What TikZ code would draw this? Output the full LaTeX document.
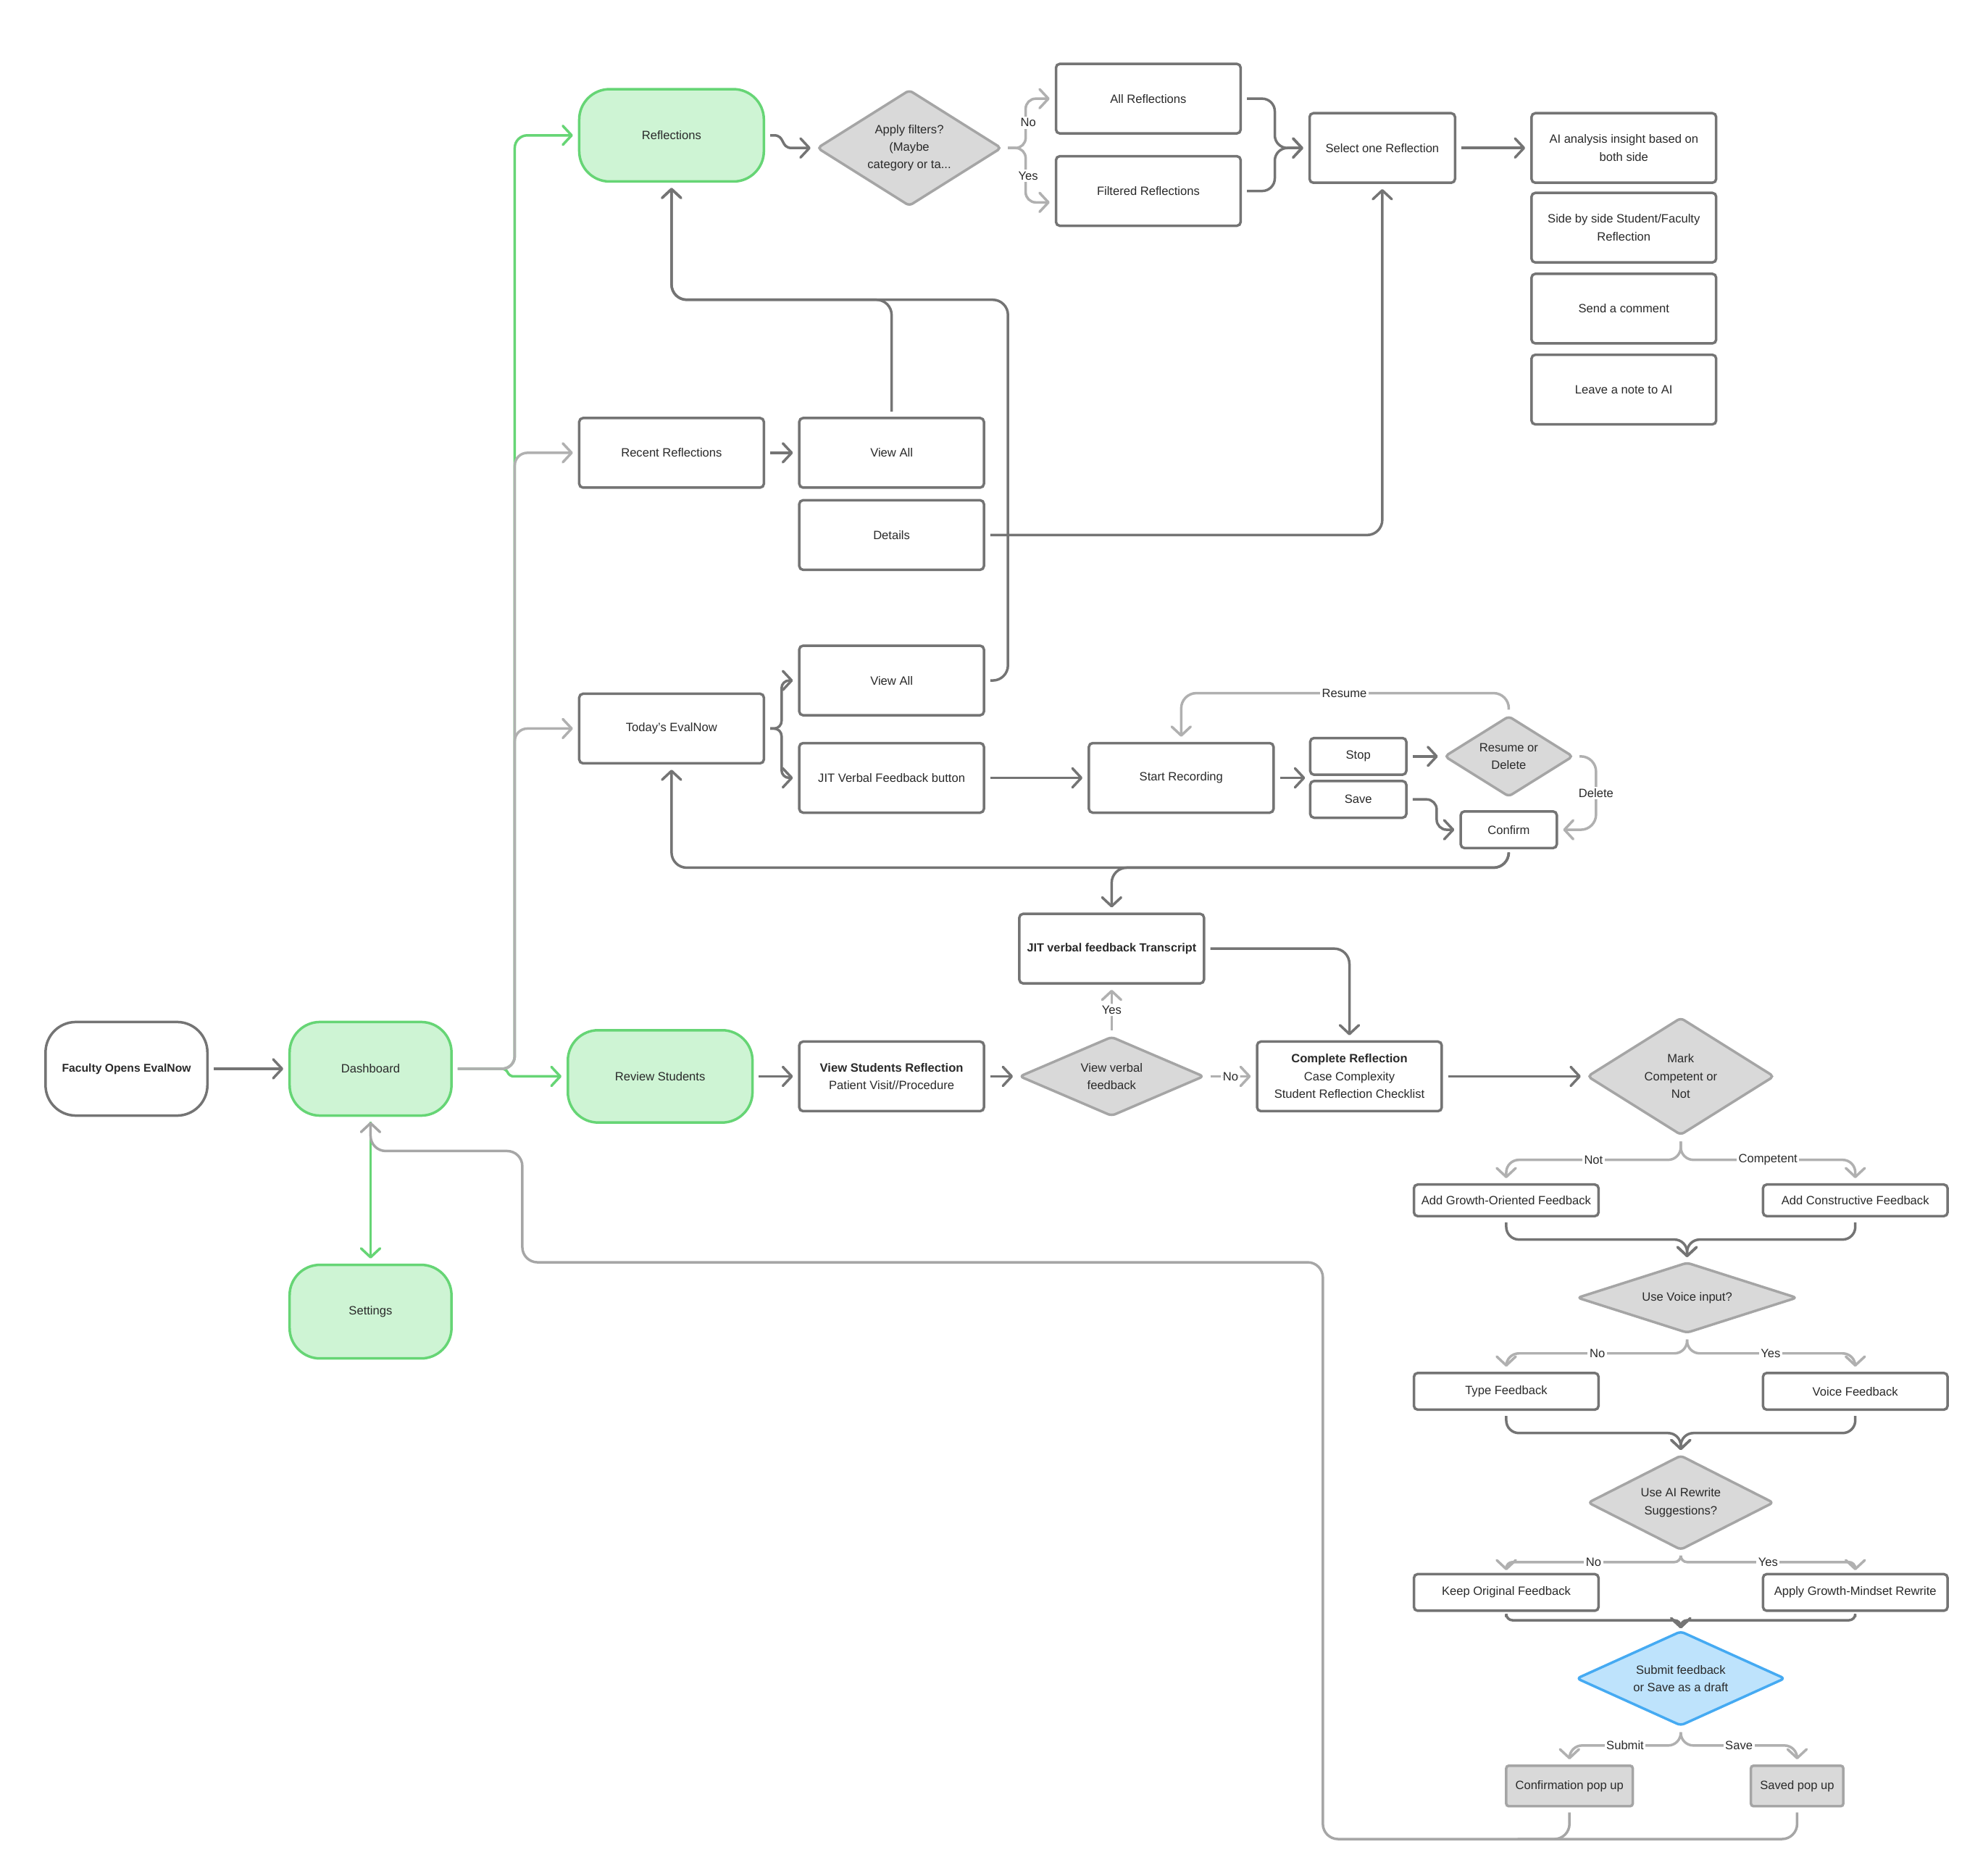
\documentclass[tikz,border=0pt]{standalone}
\usepackage{fontspec}
\setmainfont{Liberation Sans}
\usetikzlibrary{arrows.meta,shapes.geometric}
\definecolor{dgray}{HTML}{747474}
\definecolor{lgray}{HTML}{B0B0B0}
\definecolor{mgray}{HTML}{A6A6A6}
\definecolor{gline}{HTML}{66D575}
\definecolor{gfill}{HTML}{CEF4D4}
\definecolor{dfill}{HTML}{D9D9D9}
\definecolor{dline}{HTML}{A5A5A5}
\definecolor{bfill}{HTML}{BEE3FC}
\definecolor{bline}{HTML}{45AAF2}
\definecolor{txt}{HTML}{2A2A2A}
\begin{document}
\begin{tikzpicture}[x=1pt,y=-1pt,
  font=\fontsize{9.5}{14}\selectfont,
  box/.style={draw=dgray, line width=2pt, fill=white, rounded corners=3pt, minimum width=146pt, minimum height=55pt, inner sep=2pt, align=center, text=txt},
  sbox/.style={box, minimum width=76pt, minimum height=29pt},
  lbox/.style={box, minimum height=29pt},
  pop/.style={draw=dline, fill=dfill, line width=2pt, rounded corners=2pt, minimum height=32pt, inner sep=2pt, align=center, text=txt},
  pill/.style={draw=gline, fill=gfill, line width=2pt, rounded corners=24pt, minimum width=128pt, minimum height=74pt, align=center, text=txt},
  dia/.style={diamond, draw=dline, fill=dfill, line width=2pt, rounded corners=3pt, inner sep=0pt, align=center, text=txt},
  bdia/.style={dia, draw=bline, fill=bfill},
  tip/.style={-{Straight Barb[length=7pt,width=15pt,round]}},
  dconn/.style={draw=dgray, line width=2pt, tip, rounded corners=10pt, shorten >=4pt, shorten <=4pt},
  lconn/.style={dconn, draw=lgray},
  mconn/.style={dconn, draw=mgray},
  gconn/.style={dconn, draw=gline},
  lab/.style={fill=white, inner sep=1.5pt, text=txt}
]
\useasboundingbox (0,0) rectangle (1568,1483);
\fill[white] (0,0) rectangle (1568,1483);

% ---------- nodes ----------
\node[pill, draw=dgray, fill=white, font=\fontsize{9}{14}\selectfont\bfseries] (fac) at (100,845) {Faculty Opens EvalNow};
\node[pill] (dash) at (293,845) {Dashboard};
\node[pill] (set) at (293,1037) {Settings};
\node[pill, minimum width=146pt, minimum height=73pt] (refl) at (531,107) {Reflections};
\node[pill, minimum width=146pt, minimum height=73pt] (rev) at (522,851) {Review Students};

\node[dia, shape aspect=1.59, minimum width=146pt, minimum height=92pt] (filt) at (719,117) {Apply filters?\\(Maybe\\category or ta...};
\node[box] (allr) at (908,78) {All Reflections};
\node[box] (filr) at (908,151) {Filtered Reflections};
\node[box, minimum width=115pt] (sel) at (1093,117) {Select one Reflection};
\node[box] (ai) at (1284,117) {AI analysis insight based on\\both side};
\node[box] (side) at (1284,180) {Side by side Student/Faculty\\Reflection};
\node[box] (send) at (1284,244) {Send a comment};
\node[box] (note) at (1284,308) {Leave a note to AI};

\node[box] (recent) at (531,358) {Recent Reflections};
\node[box] (va1) at (705,358) {View All};
\node[box] (det) at (705,423) {Details};
\node[box] (va2) at (705,538) {View All};
\node[box] (today) at (531,576) {Today’s EvalNow};
\node[box] (jitb) at (705,615) {JIT Verbal Feedback button};
\node[box] (rec) at (934,615) {Start Recording};
\node[sbox] (stop) at (1074,598) {Stop};
\node[sbox] (save) at (1074,632) {Save};
\node[dia, shape aspect=1.6, minimum width=102pt, minimum height=64pt] (rd) at (1193,598) {Resume or\\Delete};
\node[sbox] (conf) at (1193,656) {Confirm};
\coordinate (ss) at (1032,615);

\node[box, font=\fontsize{9.3}{14}\selectfont\bfseries] (jitt) at (879,750) {JIT verbal feedback Transcript};
\node[box] (vsr) at (705,851) {\textbf{View Students Reflection}\\Patient Visit//Procedure};
\node[dia, shape aspect=2.3, minimum width=146pt, minimum height=63pt] (vvf) at (879,851) {View verbal\\feedback};
\node[box] (cr) at (1067,851) {\textbf{Complete Reflection}\\Case Complexity\\Student Reflection Checklist};
\node[dia, shape aspect=1.6, minimum width=148pt, minimum height=93pt] (mark) at (1329,851) {Mark\\Competent or\\Not};

\node[box, minimum height=25pt] (agf) at (1191,949) {Add Growth-Oriented Feedback};
\node[box, minimum height=25pt] (acf) at (1467,949) {Add Constructive Feedback};
\node[dia, shape aspect=3.1, minimum width=174pt, minimum height=56pt] (uvi) at (1334,1026) {Use Voice input?};
\node[lbox] (tf) at (1191,1100) {Type Feedback};
\node[lbox] (vf) at (1467,1100) {Voice Feedback};
\node[dia, shape aspect=1.96, minimum width=147pt, minimum height=75pt] (uai) at (1329,1188) {Use AI Rewrite\\Suggestions?};
\node[lbox] (kof) at (1191,1259) {Keep Original Feedback};
\node[lbox] (agm) at (1467,1259) {Apply Growth-Mindset Rewrite};
\node[bdia, shape aspect=2.2, minimum width=165pt, minimum height=75pt] (sub) at (1329,1327) {Submit feedback\\or Save as a draft};
\node[pop, minimum width=100pt] (cpu) at (1241,1412) {Confirmation pop up};
\node[pop, minimum width=73pt] (spu) at (1421,1412) {Saved pop up};

% ---------- connectors ----------
\draw[dconn] (fac.east) -- (dash.west);
% green (drawn beneath the grey ones)
\draw[gconn] (dash.east) -- (407,845) -- (407,107) -- (refl.west);
\draw[gconn, rounded corners=3pt] (dash.east) -- (400,845) -- (403,851) -- (rev.west);
\draw[gconn] (dash.south) -- (set.north);
% grey from dashboard
\draw[lconn] (dash.east) -- (407,845) -- (407,358) -- (recent.west);
\draw[lconn] (dash.east) -- (407,845) -- (407,576) -- (today.west);

% return path from pop ups
\draw[mconn, rounded corners=12pt] (cpu.south) -- (1241,1454) -- (1046,1454) -- (1046,998) -- (413,998) -- (413,910) -- (293,910) -- (dash.south);
\draw[draw=mgray, line width=2pt, rounded corners=12pt, shorten <=4pt] (spu.south) -- (1421,1454) -- (1200,1454);

% reflections branch
\draw[dconn, rounded corners=0pt] (refl.east) -- (612,107) .. controls (621,107) and (617,117) .. (626,117) -- (filt.west);
\draw[lconn, rounded corners=8pt] (filt.east) -- (811,117) -- (811,78) -- (allr.west);
\draw[lconn, rounded corners=8pt] (filt.east) -- (811,117) -- (811,160) -- ([yshift=-9pt]filr.west);
\node[lab] (lno1) at (813,97) {No};
\node[lab] (lyes1) at (813,139) {Yes};
\draw[dconn] (allr.east) -| (1008,117) -- (sel.west);
\draw[dconn] (filr.east) -| (1008,117) -- (sel.west);
\draw[dconn] (sel.east) -- (ai.west);

% view all / details
\draw[dconn, rounded corners=12pt] (va1.north) -- (705,237) -- (531,237) -- (refl.south);
\draw[dconn, rounded corners=12pt] (va2.east) -- (797,538) -- (797,237) -- (531,237) -- (refl.south);
\draw[dconn] (recent.east) -- (va1.west);
\draw[dconn, rounded corners=12pt] (det.east) -| (sel.south);

% today's evalnow
\draw[dconn, rounded corners=6pt] (today.east) -- (618,576) -- (618,538) -- (va2.west);
\draw[dconn, rounded corners=6pt] (today.east) -- (618,576) -- (618,615) -- (jitb.west);
\draw[dconn] (jitb.east) -- (rec.west);
\draw[dconn, shorten >=0pt] (rec.east) -- (ss);
\draw[dconn] (stop.east) -- (rd.west);
\draw[dconn, rounded corners=8pt] (save.east) -| (1136,656) -- (conf.west);
\draw[lconn, rounded corners=12pt] (rd.north) -- (1193,548) -- (934,548) -- (rec.north);
\node[lab] (lres) at (1063,548) {Resume};
\draw[lconn, rounded corners=12pt] (rd.east) -| (1262,656) -- (conf.east);
\node[lab] (ldel) at (1262,627) {Delete};
\draw[dconn, rounded corners=12pt] (conf.south) -- (1193,686) -- (531,686) -- (today.south);
\draw[dconn, rounded corners=12pt] (conf.south) -- (1193,686) -- (879,686) -- (jitt.north);

% review students row
\draw[dconn, rounded corners=12pt] (jitt.east) -| (cr.north);
\draw[dconn] (rev.east) -- (vsr.west);
\draw[dconn] (vsr.east) -- (vvf.west);
\draw[lconn] (vvf.north) -- (jitt.south) node[lab, midway] (lyes2) {Yes};
\draw[lconn] (vvf.east) -- (cr.west) node[lab, midway] (lno2) {No};
\draw[dconn] (cr.east) -- (mark.west);

% competence branch
\draw[lconn] (mark.south) -- (1329,917) -- (1191,917) -- (agf.north);
\draw[lconn] (mark.south) -- (1329,917) -- (1467,917) -- (acf.north);
\node[lab] (lnot) at (1260,917) {Not};
\node[lab] (lcomp) at (1398,917) {Competent};
\draw[dconn, shorten >=3pt] (agf.south) -- (1191,980) -- (1334,980) -- (uvi.north);
\draw[dconn, shorten >=3pt] (acf.south) -- (1467,980) -- (1334,980) -- (uvi.north);

% voice branch
\draw[lconn] (uvi.south) -- (1334,1070) -- (1191,1070) -- (tf.north);
\draw[lconn] (uvi.south) -- (1334,1070) -- (1467,1070) -- (vf.north);
\node[lab] (lno3) at (1263,1070) {No};
\node[lab] (lyes3) at (1400,1070) {Yes};
\draw[dconn, shorten >=3pt] (tf.south) -- (1191,1133) -- (1329,1133) -- (uai.north);
\draw[dconn, shorten >=3pt] (vf.south) -- (1467,1133) -- (1329,1133) -- (uai.north);

% AI rewrite branch
\draw[lconn, rounded corners=5pt, shorten >=2pt] (uai.south) -- (1329,1235) -- (1191,1235) -- (kof.north);
\draw[lconn, rounded corners=5pt, shorten >=2pt] (uai.south) -- (1329,1235) -- (1467,1235) -- (agm.north);
\node[lab] (lno4) at (1260,1235) {No};
\node[lab] (lyes4) at (1398,1235) {Yes};
\draw[dconn, rounded corners=5pt, shorten >=1pt] (kof.south) -- (1191,1281) -- (1329,1281) -- (sub.north);
\draw[dconn, rounded corners=5pt, shorten >=1pt] (agm.south) -- (1467,1281) -- (1329,1281) -- (sub.north);

% submit branch
\draw[lconn] (sub.south) -- (1329,1380) -- (1241,1380) -- (cpu.north);
\draw[lconn] (sub.south) -- (1329,1380) -- (1421,1380) -- (spu.north);
\node[lab] (lsub) at (1285,1380) {Submit};
\node[lab] (lsave) at (1375,1380) {Save};
\end{tikzpicture}
\end{document}
